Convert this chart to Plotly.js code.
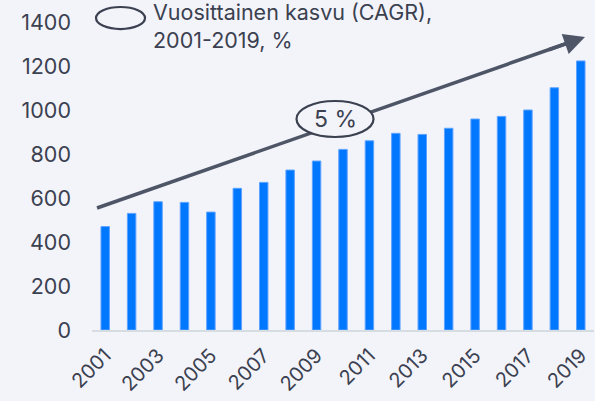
<!DOCTYPE html>
<html>
<head>
<meta charset="utf-8">
<script src="https://cdn.plot.ly/plotly-3.0.1.min.js"></script>
<style>
html,body{margin:0;padding:0;background:#f3f4fa;}
#chart{width:595px;height:401px;}
</style>
</head>
<body>
<div id="chart"></div>
<script>
const years = [2001,2002,2003,2004,2005,2006,2007,2008,2009,2010,2011,2012,2013,2014,2015,2016,2017,2018,2019];
const values = [470,530,583,580,536,644,671,727,768,821,860,894,889,917,959,971,1000,1101,1223];
const tickYears = [2001,2003,2005,2007,2009,2011,2013,2015,2017,2019];
const yTicks = [0,200,400,600,800,1000,1200,1400];
const legendText = "Vuosittainen kasvu (CAGR),<br>2001-2019, %";
const cagrText = "5 %";

const bg = "#f3f4fa";
const textCol = "#3b4150";
const arrowCol = "#4d5566";
const font = "Inter";

const trace = {
  type: "bar",
  x: years,
  y: values,
  width: 0.32,
  marker: {color: "#0077ff", line: {color: "#5da3ff", width: 1}},
  hoverinfo: "skip"
};

// arrow geometry (paper coords)
const ax0 = (97-92)/502, ay0 = (330-208)/308;
const ax1 = (585-92)/502, ay1 = (330-37)/308;

const layout = {
  width: 595, height: 401,
  margin: {l: 92, r: 1, t: 22, b: 71, pad: 0},
  paper_bgcolor: bg, plot_bgcolor: bg,
  showlegend: false,
  font: {family: font, color: textCol, size: 21},
  xaxis: {
    type: "linear", range: [2000.5, 2019.5],
    tickvals: tickYears, ticktext: tickYears.map(String),
    tickangle: -45, showgrid: false, zeroline: false,
    showline: true, linecolor: "#d6dde2", linewidth: 2,
    ticks: "", ticklabelstandoff: 4,
    tickfont: {size: 20, color: textCol}, fixedrange: true
  },
  yaxis: {
    range: [0, 1400], tickvals: yTicks, showgrid: false, zeroline: false,
    showline: false, ticks: "", ticklabelstandoff: 20,
    tickfont: {size: 21.5, color: textCol}, fixedrange: true
  },
  shapes: [
    {type: "circle", xref: "paper", yref: "paper",
     x0: 0.008, x1: 0.1056, y0: 0.977, y1: 1.0487,
     line: {color: textCol, width: 2.2}, fillcolor: "rgba(0,0,0,0)"},
    {type: "line", xref: "paper", yref: "paper",
     x0: ax0, y0: ay0, x1: ax1 - 10/502, y1: ay1 - 3.5/308,
     line: {color: arrowCol, width: 3.5}, layer: "above"},
    {type: "circle", xref: "paper", yref: "paper",
     x0: 0.4074, x1: 0.5608, y0: 0.6266, y1: 0.7435,
     line: {color: textCol, width: 2.2}, fillcolor: bg, layer: "above"}
  ],
  annotations: [
    {xref: "paper", yref: "paper", x: ax1, y: ay1,
     axref: "pixel", ayref: "pixel", ax: -37.7, ay: 13.3,
     showarrow: true, arrowhead: 2, arrowsize: 1.2, arrowwidth: 3.5,
     arrowcolor: arrowCol, text: ""},
    {xref: "paper", yref: "paper", x: 0.1175, y: 1.08,
     xanchor: "left", yanchor: "top", align: "left",
     text: legendText, showarrow: false,
     font: {size: 21.5, color: textCol, family: font}},
    {xref: "paper", yref: "paper", x: 0.4841, y: 0.685,
     xanchor: "center", yanchor: "middle", text: cagrText, showarrow: false,
     font: {size: 23, color: textCol, family: font}}
  ]
};

Plotly.newPlot("chart", [trace], layout, {displayModeBar: false, staticPlot: true});
</script>
</body>
</html>
